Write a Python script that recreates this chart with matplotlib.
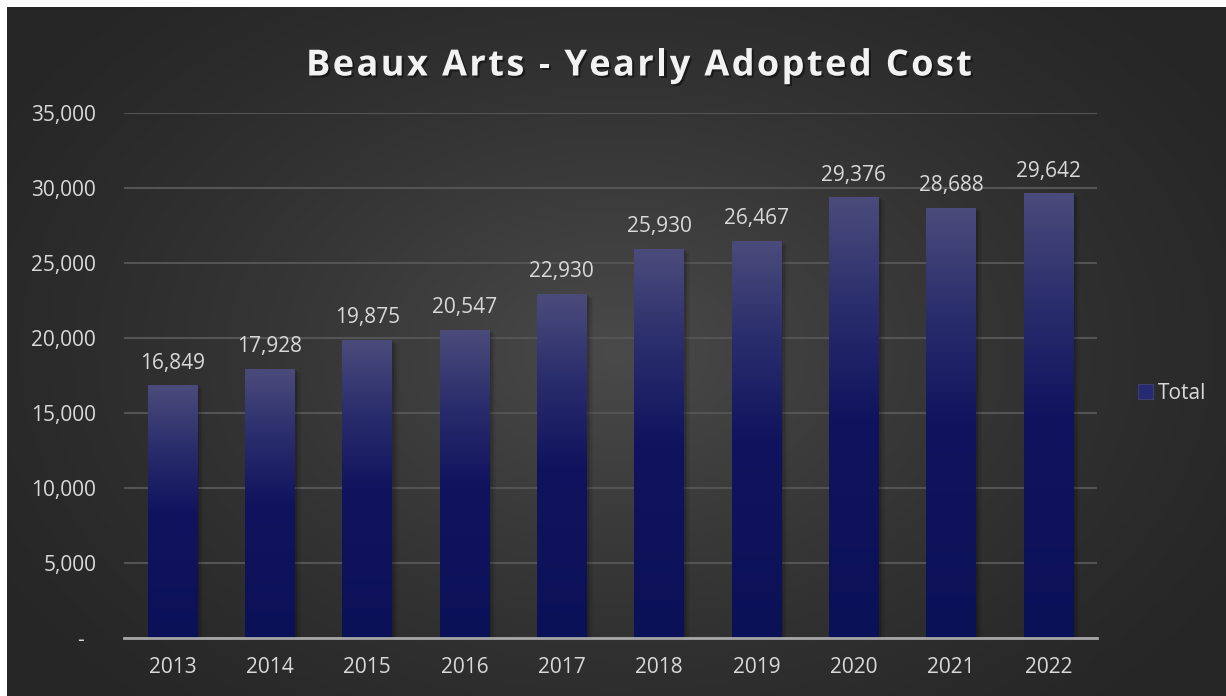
import matplotlib
matplotlib.use("Agg")
import matplotlib.pyplot as plt
import numpy as np
from matplotlib import patheffects
from matplotlib.colors import LinearSegmentedColormap
from matplotlib.font_manager import FontProperties
from matplotlib.patches import Patch
from matplotlib.ticker import FuncFormatter
from matplotlib.transforms import ScaledTranslation

years = ["2013", "2014", "2015", "2016", "2017", "2018", "2019", "2020", "2021", "2022"]
totals = [16849, 17928, 19875, 20547, 22930, 25930, 26467, 29376, 28688, 29642]
y_ticks = [0, 5000, 10000, 15000, 20000, 25000, 30000, 35000]
title = "Beaux Arts - Yearly Adopted Cost"

W, H, DPI = 1226, 696, 100
TEXT = "#d9d9d9"
FONT = "Open Sans"

plt.rcParams["font.family"] = [FONT, "DejaVu Sans"]

fig = plt.figure(figsize=(W / DPI, H / DPI), dpi=DPI, facecolor="white")

# dark chart area with a soft radial highlight in the middle
bg = fig.add_axes([7 / W, 0, 1 - 7 / W, 1 - 7 / H])
bg.set_axis_off()
gy, gx = np.mgrid[0:1:300j, 0:1:520j]
r = np.sqrt(((gx - 0.5) / 0.62) ** 2 + ((gy - 0.5) / 0.75) ** 2)
shade = np.clip(1 - r, 0, 1) ** 1.4
bg_cmap = LinearSegmentedColormap.from_list("bg", ["#262626", "#4a4a4a"])
bg.imshow(shade, cmap=bg_cmap, vmin=0, vmax=1, aspect="auto", extent=[0, 1, 0, 1])
bg.set_xlim(0, 1)
bg.set_ylim(0, 1)

ax = fig.add_axes([124 / W, 1 - 638 / H, (1097 - 124) / W, (638 - 113) / H])
ax.patch.set_alpha(0)

x = np.arange(len(years))
width = 0.51

ax.set_xlim(-0.5, len(years) - 0.5)
ax.set_ylim(0, 35000)
ax.set_yticks(y_ticks)
# accounting style: zero shown as a dash, pushed in from the right edge
ax.yaxis.set_major_formatter(
    FuncFormatter(lambda v, p: "-\u2007" if v == 0 else f"{v:,.0f}"))
ax.set_xticks(x, years)
ax.tick_params(axis="y", length=0, pad=20, labelsize=15, labelcolor=TEXT)
ax.tick_params(axis="x", length=0, pad=14, labelsize=15, labelcolor=TEXT)
ax.grid(axis="y", color="#545454", linewidth=1.5, zorder=0)
ax.set_axisbelow(True)
for side in ["left", "right", "top"]:
    ax.spines[side].set_visible(False)
ax.spines["bottom"].set_color("#a6a6a6")
ax.spines["bottom"].set_linewidth(2)
ax.spines["bottom"].set_zorder(6)

# soft drop shadow to the right of each bar
for k, alpha in enumerate([0.10, 0.08, 0.06, 0.04]):
    shadows = ax.bar(x, totals, width=width, color="black", alpha=alpha, zorder=1, linewidth=0)
    off = ScaledTranslation((2 + 1.5 * k) / DPI, -(1 + k) / DPI, fig.dpi_scale_trans)
    for p in shadows:
        p.set_transform(ax.transData + off)

bars = ax.bar(x, totals, width=width, color="none", linewidth=0, zorder=3)

# vertical gradient inside every bar, lighter at its top
bar_cmap = LinearSegmentedColormap.from_list(
    "bar", [(0.0, "#0b1157"), (0.5, "#10145e"), (0.75, "#2a2d6c"), (1.0, "#4b4b7b")]
)
grad = np.linspace(0, 1, 256).reshape(-1, 1)
for b in bars:
    x0, h = b.get_x(), b.get_height()
    im = ax.imshow(grad, cmap=bar_cmap, origin="lower", aspect="auto",
                   extent=[x0, x0 + b.get_width(), 0, h], zorder=3)
    im.set_clip_path(b)
ax.set_xlim(-0.5, len(years) - 0.5)
ax.set_ylim(0, 35000)

for xi, v in zip(x, totals):
    ax.annotate(f"{v:,}", (xi, v), xytext=(0, 12), textcoords="offset points",
                ha="center", va="baseline", fontsize=15, color=TEXT, zorder=5)

leg_patch = Patch(facecolor="#262a72", edgecolor="#4b4b7b", linewidth=0.5, label="Total")
leg = fig.legend(handles=[leg_patch], loc="center left", bbox_to_anchor=(1130 / W, 1 - 393 / H),
                 frameon=False, fontsize=15, handlelength=0.7, handleheight=0.7,
                 handletextpad=0.25, borderaxespad=0)
for t in leg.get_texts():
    t.set_color(TEXT)

# spaced-out bold title drawn one letter at a time
fp = FontProperties(family=FONT, weight="bold", size=26)
fig.canvas.draw()
renderer = fig.canvas.get_renderer()


def ink_width(s):
    if not s.strip():
        return 0.0
    return renderer.get_text_width_height_descent(s, fp, ismath=False)[0]


spacing = 2.4
space_w = ink_width("a a") - ink_width("aa")
pos = []
cur = 0.0
for ch in title:
    pos.append(cur)
    cur += (space_w if ch == " " else ink_width(ch)) + spacing
total_w = cur - spacing
left = 639 - total_w / 2
shadow = [patheffects.withSimplePatchShadow(offset=(1.5, -1.5), shadow_rgbFace="black", alpha=0.45)]
for ch, px in zip(title, pos):
    if ch == " ":
        continue
    fig.text((left + px) / W, 1 - 62 / H, ch, fontproperties=fp, color="#f2f2f2",
             ha="left", va="center_baseline", path_effects=shadow)

fig.savefig("out.png", dpi=DPI, facecolor="white")
